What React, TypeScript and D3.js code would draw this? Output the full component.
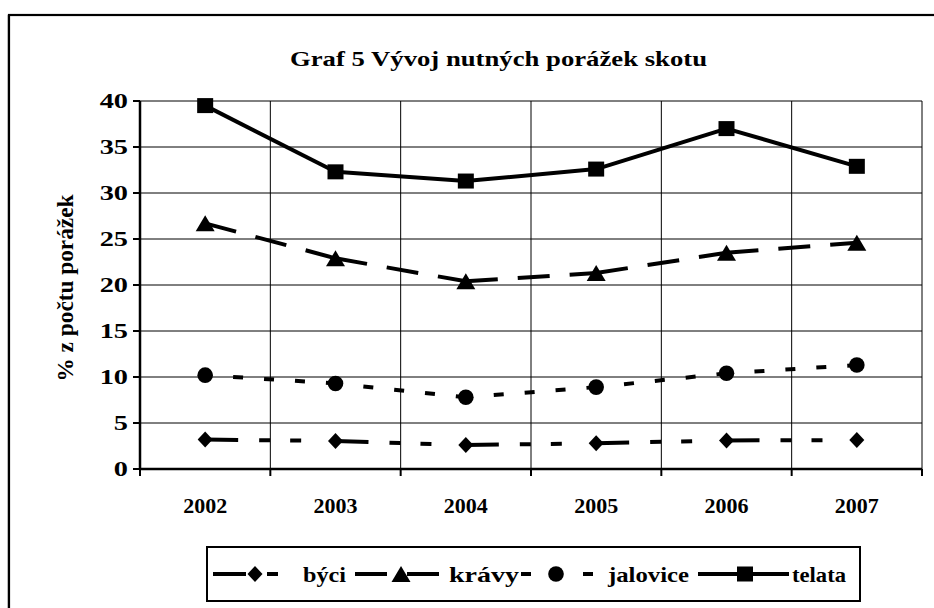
import React from "react";
import * as d3 from "d3";

const years = ["2002", "2003", "2004", "2005", "2006", "2007"];
const byci = [3.2, 3.05, 2.6, 2.8, 3.1, 3.15];
const kravy = [26.7, 22.9, 20.4, 21.3, 23.5, 24.6];
const jalovice = [10.2, 9.3, 7.8, 8.9, 10.4, 11.3];
const telata = [39.5, 32.3, 31.3, 32.6, 37.0, 32.9];
const yTicks = [0, 5, 10, 15, 20, 25, 30, 35, 40];
const seriesNames = ["býci", "krávy", "jalovice", "telata"];

const W = 934;
const H = 608;
const FONT = "'Liberation Serif', 'Times New Roman', serif";

type MarkerKind = "diamond" | "triangle" | "circle" | "square";

const seriesStyle: { values: number[]; marker: MarkerKind; dash: string; offset: number }[] = [
  { values: byci, marker: "diamond", dash: "33,21,11,20,11,40", offset: 0 },
  { values: kravy, marker: "triangle", dash: "32,20", offset: 0 },
  { values: jalovice, marker: "circle", dash: "10,21", offset: 3 },
  { values: telata, marker: "square", dash: "none", offset: 0 },
];

const legendLayout = [
  { x0: 213, x1: 297, mx: 255, tx: 303, tl: 43, offset: 0 },
  { x0: 355, x1: 446, mx: 401, tx: 449, tl: 70, offset: 0 },
  { x0: 521, x1: 593, mx: 556, tx: 608, tl: 81, offset: 0 },
  { x0: 698, x1: 789, mx: 745, tx: 792, tl: 54, offset: 0 },
];

function Marker({ kind, x, y }: { kind: MarkerKind; x: number; y: number }) {
  if (kind === "diamond") {
    const rx = 7.5, ry = 8;
    return <path d={`M${x},${y - ry}L${x + rx},${y}L${x},${y + ry}L${x - rx},${y}Z`} fill="#000" />;
  }
  if (kind === "triangle") {
    const w = 9.5, h = 16;
    return <path d={`M${x},${y - h / 2}L${x + w},${y + h / 2}L${x - w},${y + h / 2}Z`} fill="#000" />;
  }
  if (kind === "circle") {
    return <circle cx={x} cy={y} r={7.8} fill="#000" />;
  }
  const s = 8;
  return <rect x={x - s} y={y - 7.5} width={2 * s} height={15} fill="#000" />;
}

export default function App() {
  const x = d3.scaleBand<string>().domain(years).range([140, 922]).padding(0);
  const y = d3.scaleLinear().domain([0, 40]).range([469, 101]);
  const bw = x.bandwidth();
  const cx = (yr: string) => (x(yr) as number) + bw / 2;
  const line = d3
    .line<[number, number]>()
    .x((d) => d[0])
    .y((d) => d[1]);

  const boundaries = years.map((yr) => x(yr) as number).concat([922]);

  return (
    <div style={{ position: "absolute", left: 0, top: 0 }}>
      <svg width={W} height={H} style={{ display: "block", background: "#fff" }}>
        <rect x={0} y={0} width={W} height={H} fill="#fff" />
        {/* outer border */}
        <line x1={7.5} y1={15} x2={7.5} y2={H} stroke="#d0d0d0" strokeWidth={1} />
        <rect x={9} y={15} width={W + 20} height={H + 20} fill="none" stroke="#000" strokeWidth={2.2} />

        {/* title */}
        <text
          x={498.5}
          y={66}
          textAnchor="middle"
          fontFamily={FONT}
          fontWeight="bold"
          fontSize={22}
          textLength={417}
          lengthAdjust="spacingAndGlyphs"
        >
          Graf 5 Vývoj nutných porážek skotu
        </text>

        {/* horizontal gridlines */}
        {yTicks.map((t) => (
          <line key={"h" + t} x1={140} x2={922} y1={y(t)} y2={y(t)} stroke="#000" strokeWidth={1} />
        ))}
        {/* vertical gridlines */}
        {boundaries.slice(1).map((b, i) => (
          <line key={"v" + i} x1={b} x2={b} y1={y(40)} y2={y(0)} stroke="#000" strokeWidth={1} />
        ))}

        {/* axes */}
        <line x1={140} x2={140} y1={y(40)} y2={y(0) + 1} stroke="#000" strokeWidth={2.5} />
        <line x1={139} x2={922} y1={y(0)} y2={y(0)} stroke="#000" strokeWidth={2.5} />
        {yTicks.map((t) => (
          <line key={"yt" + t} x1={133} x2={140} y1={y(t)} y2={y(t)} stroke="#000" strokeWidth={2} />
        ))}
        {boundaries.map((b, i) => (
          <line key={"xt" + i} x1={b} x2={b} y1={y(0)} y2={y(0) + 7} stroke="#000" strokeWidth={2} />
        ))}

        {/* y tick labels */}
        {yTicks.map((t) => (
          <text
            key={"yl" + t}
            transform={`translate(128,${y(t)}) scale(1.35,1)`}
            textAnchor="end"
            dy="0.35em"
            fontFamily={FONT}
            fontWeight="bold"
            fontSize={21}
          >
            {t}
          </text>
        ))}
        {/* x tick labels */}
        {years.map((yr) => (
          <text
            key={"xl" + yr}
            x={cx(yr)}
            y={513}
            textAnchor="middle"
            fontFamily={FONT}
            fontWeight="bold"
            fontSize={22}
          >
            {yr}
          </text>
        ))}

        {/* y axis title */}
        <text
          transform={`translate(65,288) rotate(-90)`}
          textAnchor="middle"
          dominantBaseline="central"
          fontFamily={FONT}
          fontWeight="bold"
          fontSize={23}
          textLength={187}
          lengthAdjust="spacingAndGlyphs"
        >
          % z počtu porážek
        </text>

        {/* series lines */}
        {seriesStyle.map((s, si) => (
          <g key={"s" + si}>
            {s.values.slice(0, -1).map((v, i) => (
              <path
                key={i}
                d={line([
                  [cx(years[i]), y(v)],
                  [cx(years[i + 1]), y(s.values[i + 1])],
                ]) as string}
                fill="none"
                stroke="#000"
                strokeWidth={4}
                strokeDasharray={s.dash}
                strokeDashoffset={s.offset}
              />
            ))}
            {s.values.map((v, i) => (
              <Marker key={"m" + i} kind={s.marker} x={cx(years[i])} y={y(v)} />
            ))}
          </g>
        ))}

        {/* legend */}
        <rect x={207} y={547} width={653} height={54} fill="#fff" stroke="#000" strokeWidth={2} />
        {seriesNames.map((name, i) => {
          const L = legendLayout[i];
          const s = seriesStyle[i];
          const ly = 574;
          return (
            <g key={"lg" + i}>
              <path
                d={line([
                  [L.x0, ly],
                  [L.x1, ly],
                ]) as string}
                stroke="#000"
                strokeWidth={4}
                strokeDasharray={s.dash}
                strokeDashoffset={L.offset}
                fill="none"
              />
              <Marker kind={s.marker} x={L.mx} y={ly} />
              <text
                x={L.tx}
                y={ly}
                dy="0.35em"
                fontFamily={FONT}
                fontWeight="bold"
                fontSize={22}
                textLength={L.tl}
                lengthAdjust="spacingAndGlyphs"
              >
                {name}
              </text>
            </g>
          );
        })}
      </svg>
    </div>
  );
}
